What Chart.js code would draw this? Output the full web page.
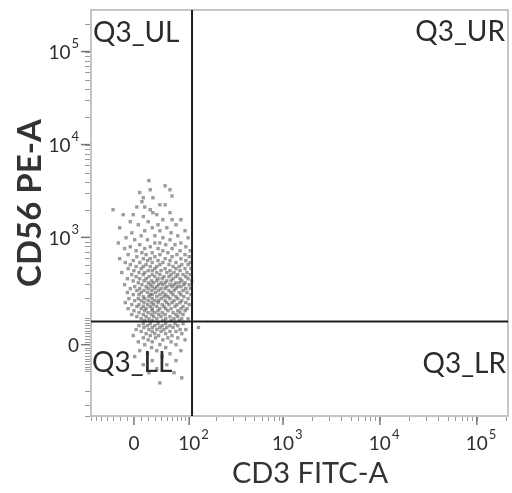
<!DOCTYPE html>
<html>
<head>
<meta charset="utf-8">
<script src="https://cdn.jsdelivr.net/npm/chart.js@4.4.1/dist/chart.umd.min.js"></script>
<style>
  html, body { margin: 0; padding: 0; background: #fff; }
  #wrap { width: 512px; height: 493px; }
</style>
</head>
<body>
<div id="wrap"><canvas id="chart-dot" width="512" height="493"></canvas></div>
<script>
// ========== Q3 gate / axes ==========
const gateCD3 = 108;
const gateCD56 = 85;
const quadLabels = ["Q3_UL", "Q3_UR", "Q3_LL", "Q3_LR"];
const cd3Ticks = [0, 1e2, 1e3, 1e4, 1e5];
const cd56Ticks = [0, 1e3, 1e4, 1e5];
const cd3Title = "CD3 FITC-A";
const cd56Title = "CD56 PE-A";

// ========== events, one row per CD56 level ==========
const cd56Rows = [
  4100, 3600, 3270, 3050, 2800, 2680, 2430, 2250, 2130, 1990,
  1850, 1760, 1680, 1555, 1480, 1370, 1270, 1180, 1120, 1040,
  990, 943, 870, 832, 790, 755, 715, 680, 648, 615,
  585, 557, 530, 502, 478, 453, 430, 409, 387, 367,
  347, 328, 311, 295, 280, 265, 251, 237, 223, 210,
  198, 186, 175, 164, 154, 143, 133, 124, 115, 106,
  97, 89, 77, 69, 62, 54, 47, 39, 32, 24,
  17, 10, 0, -10, -21, -32, -42, -57, -73, -89,
  -106, -129, -154,
];
const cd3ByRow = [
  [21], [47], [23, 56], [8], [60], [27, 13], [11], [38, 47], [4, 15], [23, -30],
  [27, 56], [-15, -1, 33], [13], [43, 60, 79], [-5, 20], [6, 35, 68], [-20, 26, 50], [15, 89, 38], [-3, 58], [10, 30, 72],
  [-11, 43, 97], [19, 56, 1], [-22, 30, 79, 38], [8, 48, 66], [-5, 23, 91], [15, 35, 60, -13], [3, 43, 77, 103], [26, 52, 11], [-8, 17, 38, 70, 89], [4, 30, 60, 100],
  [-20, 23, 47, 79, 13], [-1, 35, 56, 91, 19], [8, 26, 43, 68, 103, -12], [-5, 17, 38, 54, 81, 97], [3, 23, 33, 62, 75, 13], [-8, 10, 30, 47, 68, 89, 105], [0, 20, 40, 56, 77, 26], [-17, 7, 15, 33, 50, 64, 94], [-3, 13, 26, 38, 58, 72, 84, 103], [3, 21, 30, 45, 54, 68, 91],
  [-9, 8, 17, 35, 42, 62, 77, 97], [-1, 14, 25, 33, 50, 58, 81, 107], [6, 20, 28, 40, 47, 68, 75, 89], [-13, 11, 23, 36, 43, 56, 64, 86, 100], [1, 17, 26, 33, 50, 60, 72, 79], [-5, 8, 20, 30, 40, 47, 68, 91, 103], [4, 14, 25, 36, 54, 64, 84], [-9, 10, 19, 31, 43, 58, 75, 94], [-1, 7, 23, 26, 38, 48, 62, 79, 105], [13, 21, 33, 45, 52, 68, 86],
  [-7, 6, 15, 26, 40, 56, 72, 97], [1, 10, 20, 30, 36, 47, 64, 81], [-12, 14, 25, 35, 50, 60, 77, 91], [-3, 7, 19, 28, 42, 54, 70, 100], [4, 13, 23, 33, 45, 66, 84], [-8, 10, 17, 26, 38, 48, 58, 79, 94], [0, 15, 26, 35, 52, 72, 89], [7, 20, 30, 42, 62, 77], [-3, 13, 25, 36, 47, 68, 84], [4, 17, 28, 40, 56, 72],
  [10, 21, 33, 48, 64, 81, 97], [15, 26, 43, 58, 75], [13, 23, 35, 48, 66, 84], [7, 19, 30, 42, 56, 72], [14, 26, 38, 50, 62, 128], [3, 21, 33, 45, 77, 91], [10, 26, 40, 56, 68], [17, 30, 48, 81], [-1, 23, 36, 60], [13, 31, 52, 72],
  [20, 43, 89], [6, 26, 58], [15, 38, 68], [25, 48], [8, 33, 79], [19, 56], [1, 42], [26, 68], [13, 50], [33],
  [21, 64], [81], [38],
];

const events = [];
cd56Rows.forEach((cd56, i) => {
  cd3ByRow[i].forEach((cd3) => events.push({ x: cd3, y: cd56 }));
});

// ========== arcsinh (biex-like) scale ==========
class BiexScale extends Chart.LinearScale {
  _t(v) {
    return Math.asinh(v / (this.options.cofactor || 100));
  }
  getPixelForValue(value) {
    const t0 = this._t(this.min);
    const t1 = this._t(this.max);
    return this.getPixelForDecimal((this._t(value) - t0) / (t1 - t0));
  }
  getValueForPixel(pixel) {
    const t0 = this._t(this.min);
    const t1 = this._t(this.max);
    const t = t0 + this.getDecimalForPixel(pixel) * (t1 - t0);
    return Math.sinh(t) * (this.options.cofactor || 100);
  }
}
BiexScale.id = "biex";
BiexScale.defaults = Chart.LinearScale.defaults;
Chart.register(BiexScale);

// minor tick values: 2..9 x decade, plus the linear part round zero
function minorValues(lo, hi, linStep) {
  const out = [];
  for (let v = -linStep * 9; v <= linStep * 9; v += linStep) {
    if (v !== 0 && v >= lo && v <= hi) out.push(v);
  }
  for (let d = linStep * 10; d <= hi; d *= 10) {
    for (let m = 1; m <= 9; m++) {
      const v = m * d;
      if (v <= hi) out.push(v);
      if (-v >= lo) out.push(-v);
    }
  }
  return out;
}

function drawPow(ctx, value, x, y, align) {
  ctx.textBaseline = "middle";
  ctx.textAlign = "left";
  if (value === 0) {
    ctx.font = "19px Lato";
    const w = ctx.measureText("0").width;
    ctx.fillText("0", align === "right" ? x - w : x - w / 2, y);
    return;
  }
  const exp = String(Math.round(Math.log10(value)));
  ctx.font = "19px Lato";
  const wBase = ctx.measureText("10").width;
  ctx.font = "13px Lato";
  const wExp = ctx.measureText(exp).width;
  const x0 = align === "right" ? x - wBase - wExp - 1 : x - wBase / 2;
  ctx.font = "19px Lato";
  ctx.fillText("10", x0, y);
  ctx.font = "13px Lato";
  ctx.fillText(exp, x0 + wBase + 1, y - 9);
}

const flowAxes = {
  id: "flowAxes",
  afterDraw(chart) {
    const { ctx, chartArea: a, scales } = chart;
    const sx = scales.x;
    const sy = scales.y;
    ctx.save();

    // frame
    ctx.strokeStyle = "#b3b3b3";
    ctx.lineWidth = 1.5;
    ctx.strokeRect(a.left, a.top, a.right - a.left, a.bottom - a.top);

    // gate lines
    const gx = sx.getPixelForValue(gateCD3);
    const gy = sy.getPixelForValue(gateCD56);
    ctx.strokeStyle = "#1e1e1e";
    ctx.lineWidth = 2;
    ctx.beginPath();
    ctx.moveTo(gx, a.top);
    ctx.lineTo(gx, a.bottom);
    ctx.moveTo(a.left, gy);
    ctx.lineTo(a.right, gy);
    ctx.stroke();

    // minor ticks
    ctx.strokeStyle = "#9a9a9a";
    ctx.lineWidth = 1;
    ctx.beginPath();
    minorValues(sx.min, sx.max, 10).forEach((v) => {
      const px = Math.round(sx.getPixelForValue(v)) + 0.5;
      ctx.moveTo(px, a.bottom + 1);
      ctx.lineTo(px, a.bottom + 5);
    });
    minorValues(sy.min, sy.max, 10).forEach((v) => {
      const py = Math.round(sy.getPixelForValue(v)) + 0.5;
      ctx.moveTo(a.left - 1, py);
      ctx.lineTo(a.left - 6, py);
    });
    ctx.stroke();

    // major ticks + labels
    ctx.strokeStyle = "#777";
    ctx.lineWidth = 1.5;
    ctx.fillStyle = "#2e2e2e";
    cd3Ticks.forEach((v) => {
      const px = sx.getPixelForValue(v);
      ctx.beginPath();
      ctx.moveTo(px, a.bottom + 1);
      ctx.lineTo(px, a.bottom + 9);
      ctx.stroke();
      drawPow(ctx, v, px, a.bottom + 28, "center");
    });
    cd56Ticks.forEach((v) => {
      const py = sy.getPixelForValue(v);
      ctx.beginPath();
      ctx.moveTo(a.left - 1, py);
      ctx.lineTo(a.left - 10, py);
      ctx.stroke();
      drawPow(ctx, v, a.left - 12, py + 1, "right");
    });

    // quadrant names
    ctx.fillStyle = "#2a2a2a";
    ctx.font = "28px Lato";
    ctx.textBaseline = "alphabetic";
    ctx.textAlign = "left";
    ctx.fillText(quadLabels[0], a.left + 2, a.top + 32);
    ctx.fillText(quadLabels[2], a.left + 1, a.bottom - 44);
    ctx.textAlign = "right";
    ctx.fillText(quadLabels[1], a.right - 3, a.top + 31);
    ctx.fillText(quadLabels[3], a.right - 2, a.bottom - 43);

    // axis titles
    ctx.fillStyle = "#333";
    ctx.textAlign = "center";
    ctx.font = "29px Lato";
    ctx.fillText(cd3Title, 310, 483);
    ctx.save();
    ctx.translate(41, 203);
    ctx.rotate(-Math.PI / 2);
    ctx.font = "bold 33px Lato";
    ctx.fillText(cd56Title, 0, 0);
    ctx.restore();

    ctx.restore();
  },
};

const ctxDot = document.getElementById("chart-dot").getContext("2d");
const chartDot = new Chart(ctxDot, {
  type: "scatter",
  data: {
    datasets: [
      {
        label: "events",
        data: events,
        pointStyle: "rect",
        pointRadius: 2.4,
        borderWidth: 0,
        backgroundColor: "rgba(95,95,95,0.62)",
      },
    ],
  },
  options: {
    responsive: false,
    animation: false,
    events: [],
    layout: {
      padding: { left: 91, top: 10, right: 4, bottom: 77 },
    },
    plugins: {
      legend: { display: false },
      tooltip: { enabled: false },
    },
    scales: {
      x: { type: "biex", cofactor: 58, min: -70, max: 210000, display: false },
      y: { type: "biex", cofactor: 141, min: -400, max: 280000, display: false },
    },
  },
  plugins: [flowAxes],
});
</script>
</body>
</html>
